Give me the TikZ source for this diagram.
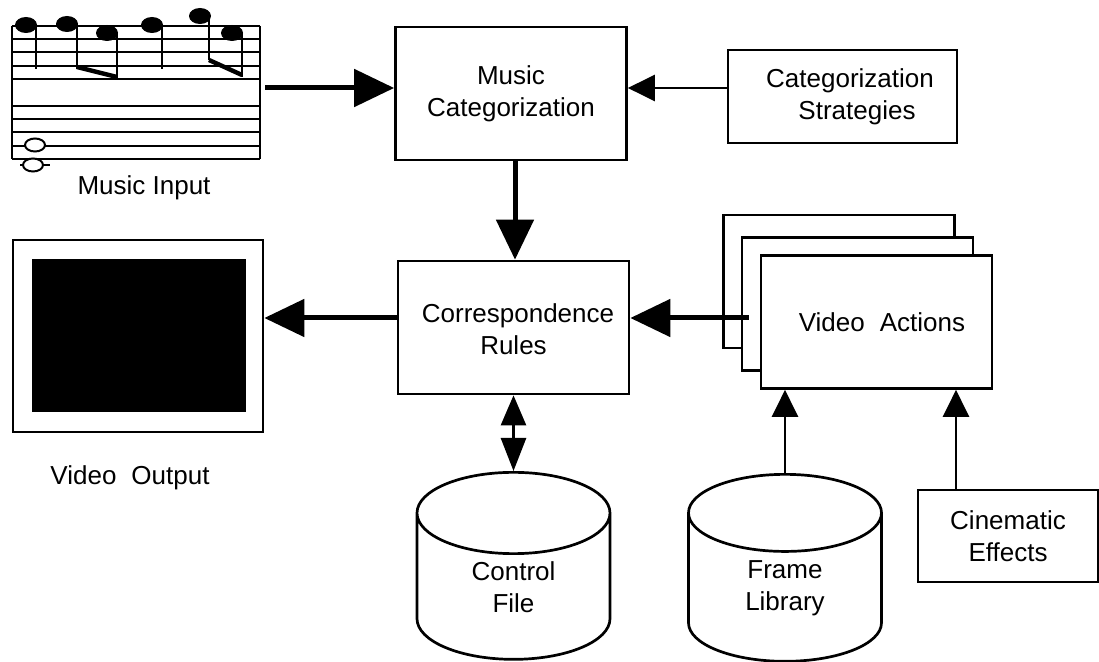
\documentclass[tikz,border=0pt]{standalone}
\usepackage{fontspec}
\setmainfont{Liberation Sans}
\usepackage{tikz}
\usetikzlibrary{positioning}
\usetikzlibrary{calc}
\usetikzlibrary{arrows.meta}
\usetikzlibrary{shapes.geometric}

\begin{document}
\begin{tikzpicture}[x=0.5pt,y=-0.5pt]
	\tikzstyle{box}=[rectangle, draw=black, line width=1.35pt, fill=white, minimum width=115.5pt, minimum height=66.5pt, inner sep=0pt, align=center, font=\fontsize{13}{16}\selectfont]
	\tikzstyle{store}=[cylinder, shape border rotate=90, draw=black, line width=1.35pt, minimum width=96.5pt, minimum height=93.5pt, aspect=0.97, inner sep=0pt, align=center, anchor=north, font=\fontsize{13}{16}\selectfont]
	\tikzstyle{txt}=[inner sep=0pt, align=center, font=\fontsize{13}{16}\selectfont]
	\tikzstyle{thickarrow}=[line width=2.5pt, -{Triangle[length=20pt,width=18.5pt]}]
	\tikzstyle{thinarrow}=[line width=1.3pt, -{Triangle[length=13.5pt,width=13pt]}]
	
	\useasboundingbox (0,0) rectangle (1099,662);
	
	% score
	\foreach \y in {26,39.25,52.5,65.75,79,106,119.25,132.5,145.75,159}
		\draw [line width=1pt] (12,\y) -- (260,\y);
	\draw [line width=1pt] (12,26) -- (12,159);
	\draw [line width=1pt] (260,26) -- (260,159);
	\foreach \x/\y in {26/25,67/24,107/33,152/25,200/16,232/33}
		\fill (\x,\y) ellipse [x radius=11, y radius=8];
	\foreach \x/\ya/\yb in {36/25/69,77/24/69,117/33/79,162/25/69,209/16/60,242/33/77}
		\draw [line width=1pt] (\x,\ya) -- (\x,\yb);
	\draw [line width=2.2pt] (77,67) -- (117,77);
	\draw [line width=2.2pt] (209,60) -- (242,75);
	\draw [line width=1pt, fill=white] (35,145) ellipse [x radius=10, y radius=6.5];
	\draw [line width=1pt] (20,165) -- (50,165);
	\draw [line width=1pt, fill=white] (33,165) ellipse [x radius=10, y radius=6.5];
	\coordinate (score) at (265,88);
	\node at (144,188) [txt] (input) {Music Input};
	
	% screen
	\node at (138,336) [box, minimum width=125pt, minimum height=96pt] (screen) {};
	\fill (32,259) rectangle (246,412);
	\node at (130,478) [txt] (output) {Video\hspace{0.3em} Output};
	
	\node at (511,93.5) [box] (categ) {Music\\Categorization};
	\node at (842.5,96.5) [box, minimum width=114.5pt, minimum height=46.5pt] (strat) {\mbox{}\\[-6pt]\hspace{7.5pt}Categorization\\\hspace{14.5pt}Strategies};
	\node at (513.5,327.5) [box] (rules) {\mbox{}\\[-5pt]\hspace{4.5pt}Correspondence\\Rules};
	
	\node at (839,281.5) [box] (act3) {};
	\node at (857.5,304) [box] (act2) {};
	\node at (876.5,322) [box] (act1) {\hspace{5.5pt}Video\hspace{0.3em} Actions};
	\node at (1008,536) [box, minimum width=90pt, minimum height=46pt] (cine) {Cinematic\\Effects};
	
	\node at (513.5,471) [store] (control) {Control\\File};
	\node at (785,473) [store] (frames) {Frame\\Library};
	
	\draw [thickarrow] (score) to (score -| categ.west);
	\draw [thinarrow] ([yshift=4.25pt]strat.west) to ([yshift=4.25pt]strat.west -| categ.east);
	\draw [thickarrow] ([xshift=2pt]categ.south) to ([xshift=2pt]categ.south |- rules.north);
	\draw [thickarrow] ([yshift=4.75pt]rules.west) to ([yshift=4.75pt]rules.west -| screen.east);
	\draw [thickarrow] ([xshift=-5.5pt,yshift=2pt]act1.west) to ([yshift=2pt]act1.west -| rules.east);
	\draw [line width=1.3pt, {Triangle[length=15pt,width=12.5pt]}-{Triangle[length=16.5pt,width=12.5pt]}] (rules.south) to (control.north);
	\draw [thinarrow] (frames.north) to (frames.north |- act1.south);
	\draw [thinarrow] ([xshift=-26pt]cine.north) to ([xshift=-26pt]cine.north |- act1.south);
\end{tikzpicture}
\end{document}
